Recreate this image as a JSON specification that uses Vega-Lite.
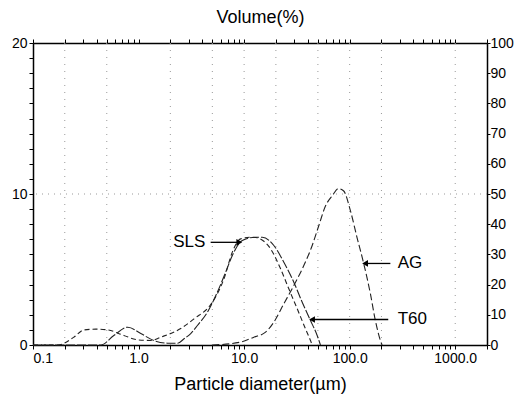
{
  "$schema": "https://vega.github.io/schema/vega-lite/v6.json",
  "autosize": "none",
  "width": 454,
  "height": 302,
  "padding": {"left": 33, "top": 43, "right": 31, "bottom": 55},
  "background": "white",
  "config": {
    "view": {"stroke": null},
    "axis": {
      "domainColor": "black", "domainWidth": 1.5, "tickColor": "black", "tickWidth": 1,
      "labelFont": "Liberation Sans", "labelFontSize": 14, "labelColor": "black",
      "titleFont": "Liberation Sans", "titleFontSize": 18, "titleFontWeight": "normal", "titleColor": "black",
      "grid": false, "labelOverlap": false
    },
    "text": {"font": "Liberation Sans"}
  },
  "datasets": {
    "curves": [
      {"s": "SLS", "d": 0.1, "v": 0}, {"s": "SLS", "d": 0.172, "v": 0}, {"s": "SLS", "d": 0.244, "v": 0.52},
      {"s": "SLS", "d": 0.304, "v": 1.0}, {"s": "SLS", "d": 0.394, "v": 1.05}, {"s": "SLS", "d": 0.512, "v": 1.0},
      {"s": "SLS", "d": 0.725, "v": 0.63}, {"s": "SLS", "d": 0.984, "v": 0.34}, {"s": "SLS", "d": 1.306, "v": 0.3},
      {"s": "SLS", "d": 1.623, "v": 0.52}, {"s": "SLS", "d": 2.509, "v": 1.09}, {"s": "SLS", "d": 3.352, "v": 1.73},
      {"s": "SLS", "d": 5.003, "v": 2.83}, {"s": "SLS", "d": 6.442, "v": 4.38}, {"s": "SLS", "d": 7.734, "v": 6.15},
      {"s": "SLS", "d": 9.266, "v": 7.03}, {"s": "SLS", "d": 11.95, "v": 7.14}, {"s": "SLS", "d": 13.3, "v": 7.1},
      {"s": "SLS", "d": 17.81, "v": 6.37}, {"s": "SLS", "d": 22.14, "v": 5.05}, {"s": "SLS", "d": 26.52, "v": 3.72},
      {"s": "SLS", "d": 31.85, "v": 2.4}, {"s": "SLS", "d": 38.15, "v": 1.07}, {"s": "SLS", "d": 42.55, "v": 0.3},
      {"s": "SLS", "d": 44.16, "v": 0},
      {"s": "T60", "d": 0.1, "v": 0}, {"s": "T60", "d": 0.44, "v": 0}, {"s": "T60", "d": 0.583, "v": 0.63},
      {"s": "T60", "d": 0.791, "v": 1.18}, {"s": "T60", "d": 1.05, "v": 0.76}, {"s": "T60", "d": 1.394, "v": 0.3},
      {"s": "T60", "d": 1.89, "v": 0.12}, {"s": "T60", "d": 2.35, "v": 0.12}, {"s": "T60", "d": 2.696, "v": 0.41},
      {"s": "T60", "d": 3.12, "v": 0.76}, {"s": "T60", "d": 3.609, "v": 1.29}, {"s": "T60", "d": 4.487, "v": 2.17},
      {"s": "T60", "d": 5.579, "v": 3.5}, {"s": "T60", "d": 6.685, "v": 4.82}, {"s": "T60", "d": 7.734, "v": 5.93},
      {"s": "T60", "d": 9.616, "v": 6.92}, {"s": "T60", "d": 12.85, "v": 7.14}, {"s": "T60", "d": 14.86, "v": 7.14},
      {"s": "T60", "d": 19.13, "v": 6.59}, {"s": "T60", "d": 23.79, "v": 5.48}, {"s": "T60", "d": 29.57, "v": 4.16},
      {"s": "T60", "d": 35.52, "v": 2.83}, {"s": "T60", "d": 42.55, "v": 1.62}, {"s": "T60", "d": 49.22, "v": 0.63},
      {"s": "T60", "d": 52.89, "v": 0},
      {"s": "AG", "d": 5.0, "v": 0}, {"s": "AG", "d": 9.27, "v": 0.19}, {"s": "AG", "d": 12.38, "v": 0.52},
      {"s": "AG", "d": 15.97, "v": 0.85}, {"s": "AG", "d": 19.13, "v": 1.51}, {"s": "AG", "d": 23.79, "v": 2.73},
      {"s": "AG", "d": 29.57, "v": 3.94}, {"s": "AG", "d": 36.77, "v": 5.26}, {"s": "AG", "d": 44.16, "v": 6.59},
      {"s": "AG", "d": 50.96, "v": 7.9}, {"s": "AG", "d": 58.97, "v": 9.2}, {"s": "AG", "d": 68.68, "v": 9.9},
      {"s": "AG", "d": 78.28, "v": 10.36}, {"s": "AG", "d": 87.85, "v": 10.2}, {"s": "AG", "d": 101.6, "v": 8.9},
      {"s": "AG", "d": 117.6, "v": 7.1}, {"s": "AG", "d": 135.8, "v": 5.4}, {"s": "AG", "d": 157.1, "v": 3.4},
      {"s": "AG", "d": 175.2, "v": 1.62}, {"s": "AG", "d": 195.4, "v": 0.3}, {"s": "AG", "d": 202.7, "v": 0}
    ],
    "gridx": [{"g": 0.2}, {"g": 0.5}, {"g": 2}, {"g": 5}, {"g": 10}, {"g": 20}, {"g": 50}, {"g": 100}, {"g": 200}, {"g": 1000}],
    "gridy": [{"p": 50}],
    "labels": [
      {"name": "SLS", "tx": 4.3, "ty": 6.8, "x1": 4.82, "x2": 9.0, "side": "right", "shape": "triangle-right"},
      {"name": "AG", "tx": 285, "ty": 5.4, "x1": 243, "x2": 140, "side": "left", "shape": "triangle-left"},
      {"name": "T60", "tx": 285, "ty": 1.69, "x1": 232, "x2": 44, "side": "left", "shape": "triangle-left"}
    ]
  },
  "layer": [
    {
      "data": {"name": "gridx"},
      "mark": {"type": "rule", "color": "#999", "strokeDash": [1, 6], "strokeWidth": 1},
      "encoding": {
        "x": {"field": "g", "type": "quantitative",
          "scale": {"type": "log", "domain": [0.1, 2000], "nice": false},
          "axis": {"orient": "top", "title": "Volume(%)", "titlePadding": 12, "labels": false, "tickSize": 4,
            "values": [0.1,0.2,0.3,0.4,0.5,0.6,0.7,0.8,0.9,1,2,3,4,5,6,7,8,9,10,20,30,40,50,60,70,80,90,100,200,300,400,500,600,700,800,900,1000,2000]}}
      }
    },
    {
      "data": {"name": "gridy"},
      "mark": {"type": "rule", "color": "#999", "strokeDash": [1, 5], "strokeWidth": 1},
      "encoding": {
        "y": {"field": "p", "type": "quantitative",
          "scale": {"domain": [0, 100], "nice": false},
          "axis": {"orient": "right", "title": null, "values": [0,10,20,30,40,50,60,70,80,90,100], "tickSize": 3, "labelPadding": 0}}
      }
    },
    {
      "data": {"name": "curves"},
      "mark": {"type": "line", "interpolate": "monotone", "strokeWidth": 1.1, "color": "#222"},
      "encoding": {
        "x": {"field": "d", "type": "quantitative",
          "scale": {"type": "log", "domain": [0.1, 2000], "nice": false},
          "axis": {"orient": "bottom", "title": "Particle diameter(µm)", "titlePadding": 10, "tickSize": 4,
            "values": [0.1,0.2,0.3,0.4,0.5,0.6,0.7,0.8,0.9,1,2,3,4,5,6,7,8,9,10,20,30,40,50,60,70,80,90,100,200,300,400,500,600,700,800,900,1000,2000],
            "labelExpr": "(datum.value == 0.1 || datum.value == 1 || datum.value == 10 || datum.value == 100 || datum.value == 1000) ? format(datum.value, '.1f') : ''"}},
        "y": {"field": "v", "type": "quantitative",
          "scale": {"domain": [0, 20], "nice": false},
          "axis": {"orient": "left", "title": null, "tickSize": 4, "labelPadding": 2,
            "values": [0,1,2,3,4,5,6,7,8,9,10,11,12,13,14,15,16,17,18,19,20],
            "labelExpr": "datum.value % 10 == 0 ? datum.label : ''"}},
        "detail": {"field": "s"},
        "strokeDash": {"field": "s", "type": "nominal",
          "scale": {"domain": ["SLS", "T60", "AG"], "range": [[5, 3], [9, 2], [7, 3]]}, "legend": null}
      }
    },
    {
      "data": {"name": "labels"},
      "mark": {"type": "rule", "color": "black", "strokeWidth": 1.3},
      "encoding": {
        "x": {"field": "x1", "type": "quantitative", "scale": {"type": "log", "domain": [0.1, 2000], "nice": false}, "axis": null},
        "x2": {"field": "x2"},
        "y": {"field": "ty", "type": "quantitative", "scale": {"domain": [0, 20], "nice": false}, "axis": null}
      }
    },
    {
      "data": {"name": "labels"},
      "mark": {"type": "point", "filled": true, "color": "black", "size": 45, "opacity": 1},
      "encoding": {
        "x": {"field": "x2", "type": "quantitative", "scale": {"type": "log", "domain": [0.1, 2000], "nice": false}, "axis": null},
        "y": {"field": "ty", "type": "quantitative", "scale": {"domain": [0, 20], "nice": false}, "axis": null},
        "shape": {"field": "shape", "type": "nominal", "scale": null}
      }
    },
    {
      "data": {"name": "labels"},
      "transform": [{"filter": "datum.side == 'right'"}],
      "mark": {"type": "text", "fontSize": 17, "color": "black", "baseline": "middle", "align": "right"},
      "encoding": {
        "x": {"field": "tx", "type": "quantitative", "scale": {"type": "log", "domain": [0.1, 2000], "nice": false}, "axis": null},
        "y": {"field": "ty", "type": "quantitative", "scale": {"domain": [0, 20], "nice": false}, "axis": null},
        "text": {"field": "name"}
      }
    },
    {
      "data": {"name": "labels"},
      "transform": [{"filter": "datum.side == 'left'"}],
      "mark": {"type": "text", "fontSize": 17, "color": "black", "baseline": "middle", "align": "left"},
      "encoding": {
        "x": {"field": "tx", "type": "quantitative", "scale": {"type": "log", "domain": [0.1, 2000], "nice": false}, "axis": null},
        "y": {"field": "ty", "type": "quantitative", "scale": {"domain": [0, 20], "nice": false}, "axis": null},
        "text": {"field": "name"}
      }
    }
  ],
  "resolve": {"scale": {"y": "independent"}, "axis": {"x": "independent", "y": "independent"}}
}
